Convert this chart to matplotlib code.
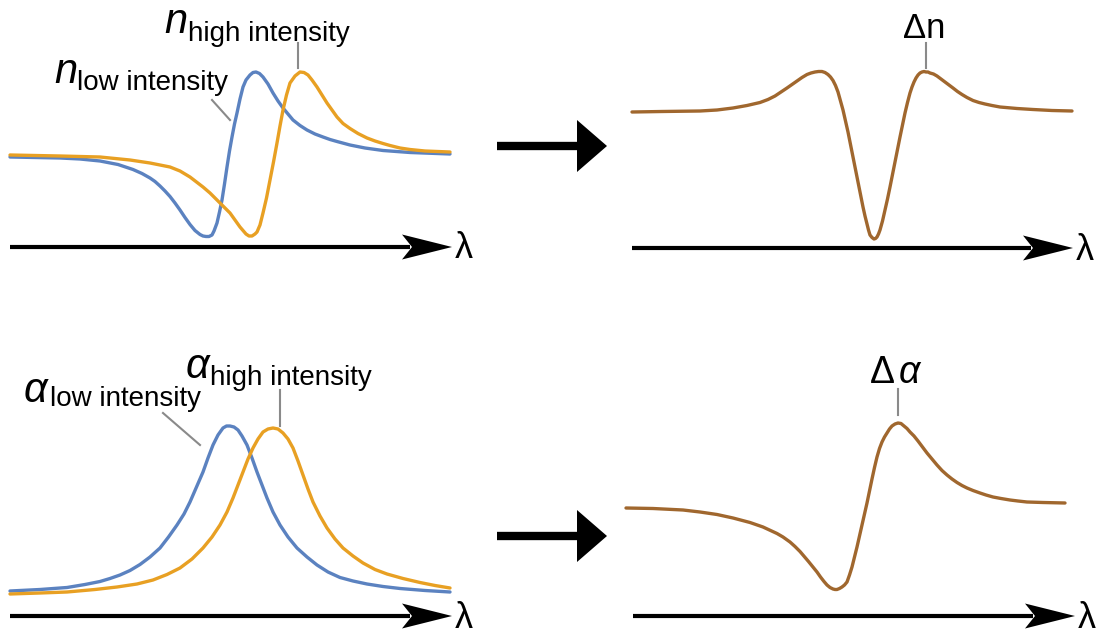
import matplotlib
matplotlib.use("Agg")
import matplotlib.pyplot as plt
from matplotlib.patches import Polygon

# -------------------------------------------------------------------------
# Data (arbitrary units: x = wavelength, y = height
# above the lambda axis)
# -------------------------------------------------------------------------
n_low_x = [0, 50, 70, 90, 108, 123, 132, 140, 145, 150,
           155, 160, 165, 170, 175, 180, 185, 190, 193, 196,
           199, 202, 204, 207, 209.5, 212, 214.5, 217, 219.5, 222,
           224.5, 227, 230, 233, 236, 240, 243, 246, 249.5, 253,
           258, 263, 268, 273, 278, 283, 290, 297, 305, 313,
           320, 327, 340, 355, 373, 400, 440]
n_low_y = [90, 89, 88, 86, 82.5, 77.5, 73.5, 69, 65.5, 61,
           56, 50.5, 44, 37, 29.5, 22.5, 16.5, 12.5, 11, 10.5,
           10.5, 12, 16, 24, 35, 47, 63, 80, 96, 110,
           123, 134, 148, 160, 167, 172, 174.5, 175, 173.5, 170,
           163, 154, 146, 139, 133, 127, 121.5, 117, 113, 110,
           107.5, 105.5, 102, 99, 96.5, 94.5, 93]

n_high_x = [0, 50, 90, 120, 140, 160, 170, 180, 193, 200,
            207, 213, 220, 225, 230, 236, 239, 242, 245, 247,
            250, 253, 256.5, 260, 263.5, 267, 270, 273, 276.5, 280,
            285, 290, 294, 298, 302, 307, 312, 317, 322, 327,
            333, 340, 348, 357, 365, 373, 380, 390, 400, 415,
            440]
n_high_y = [92, 91, 90, 87, 84, 80, 76, 70, 60, 54,
            47, 41, 34, 27, 20, 13, 11, 11, 13, 15,
            22, 34, 49, 67, 85, 104, 121, 137, 152, 164,
            171, 175, 174.5, 172, 167, 160, 152, 144, 137, 130,
            123.5, 118.5, 113.5, 109, 106, 103.5, 101.5, 99, 97.5, 96,
            95]

a_low_x = [0, 30, 57, 75, 90, 100, 110, 120, 130, 140,
           150, 158.5, 167, 174, 180, 186.5, 193, 198, 203, 208,
           213, 216.5, 220, 224, 228, 232, 237, 242, 247, 252,
           257, 263, 270, 278, 287, 297, 307, 318, 330, 343,
           357, 373, 390, 415, 440]
a_low_y = [25, 26.5, 28.5, 31.5, 34.5, 37.5, 41, 45.5, 51.5, 59,
           68, 79, 91, 102, 114, 129, 144, 158, 171, 181,
           188, 190, 190, 189, 186, 180, 171, 158, 144, 131,
           118, 104, 91, 79, 68, 59, 51, 44, 38.5, 35,
           32, 29.5, 27.5, 25.5, 24]

a_high_x = [0, 30, 57, 85, 107, 127, 143, 157, 170, 182,
            193, 202, 210, 217, 223, 228, 233, 238, 243, 248,
            253, 258, 263, 268, 273, 278, 283, 288, 293, 298,
            303, 310, 317, 325, 333, 343, 353, 365, 377, 393,
            410, 425, 440]
a_high_y = [22, 23, 24, 26.5, 29, 32, 36, 41.5, 48, 57,
            68, 79, 91, 104, 118, 131, 144, 157, 168, 177,
            184, 187, 188, 187, 183, 177, 168, 155, 141, 127,
            114, 100, 88, 77, 68, 60, 53, 46.5, 42, 37.5,
            33.5, 30.5, 28]

dn_x = [0, 30, 68, 85, 101, 115, 128, 136, 143, 149,
        155, 160, 165, 170, 175, 179, 183, 186.5, 190, 193,
        196, 198.5, 201, 203.5, 206, 208.5, 211, 213.5, 216, 218.5,
        221, 223.5, 226, 228.5, 231, 233, 235, 236.5, 238, 240,
        242, 243.5, 245, 246.5, 248, 250.5, 253, 255.5, 258, 260.5,
        263, 265.5, 268, 270.5, 273, 275.5, 278, 280, 282, 284,
        286, 288, 290, 292, 294, 296, 298, 301.5, 305, 309,
        313, 317, 321, 325.5, 330, 335, 341, 347, 353, 360,
        368, 385, 401, 420, 440]
dn_y = [136, 136.5, 137, 138, 140, 142.5, 145.5, 148.5, 152, 156,
        160, 163.5, 167, 170.5, 173.5, 175, 176, 176.5, 176.5, 175.5,
        173.5, 171, 167.5, 162.5, 156, 147, 138, 127, 116, 103.5,
        91, 78.5, 66, 53.5, 41, 32, 24, 18, 13, 10.5,
        9, 9.5, 11, 14, 18, 27, 38, 49, 61, 73.5,
        86, 98.5, 111, 123, 135, 145.5, 155, 161, 166, 170,
        173, 175, 176, 176.5, 176, 176, 175, 174, 172, 169,
        166, 163, 160, 156.5, 153.5, 150.5, 147.5, 145.5, 144, 142.5,
        141, 139.5, 138.5, 137.5, 137]

da_x = [-7, 20, 50, 67, 84, 100, 117, 130, 144, 150,
        157, 162, 167, 175.5, 184, 187.5, 191, 194, 197, 200,
        202, 204, 206.5, 209, 211.5, 214, 216.5, 219, 221.5, 224,
        226.5, 229, 231.5, 234, 236.5, 239, 241.5, 244, 246.5, 249,
        251.5, 254, 256.5, 259, 262, 265, 268, 271, 274, 277,
        281, 285, 289.5, 294, 299, 304, 309, 314, 319, 324,
        329, 334, 340, 347, 353, 360, 368, 377, 385, 394,
        410, 432]
da_y = [108, 107.5, 106, 104, 101.5, 98, 93.5, 89, 82.5, 79,
        74, 69.5, 64.5, 54.5, 44, 39, 34.5, 31, 28.5, 27,
        26.5, 26.5, 27.5, 29, 31, 34, 41, 49, 59, 69,
        80, 91, 102, 113, 125, 137, 148.5, 159, 167.5, 174,
        179, 183, 187, 190, 192, 193, 192.5, 190, 187.5, 184,
        180, 175, 169, 163, 157, 151, 145.5, 141, 137, 133.5,
        130.5, 128, 125.5, 123, 121, 119, 117.5, 116, 115, 114,
        113.5, 113]

# -------------------------------------------------------------------------
# Style
# -------------------------------------------------------------------------
W, H = 1102, 635
BLUE = "#5b82c0"
ORANGE = "#e8a023"
BROWN = "#a0672e"
GREY = "#8a8a8a"
LW = 2.4
FONT = "Liberation Sans"

fig = plt.figure(figsize=(W / 100, H / 100), dpi=100)

# background axes in pixel units (for the big arrows between panels)
bg = fig.add_axes([0, 0, 1, 1])
bg.set_xlim(0, W)
bg.set_ylim(H, 0)
bg.axis("off")


def make_panel(ox, oy, x0, x1, y0, y1):
    """Axes where 1 data unit = 1 pixel, origin at pixel (ox, oy)."""
    ax = fig.add_axes([x0 / W, 1 - y1 / H, (x1 - x0) / W, (y1 - y0) / H])
    ax.set_xlim(x0 - ox, x1 - ox)
    ax.set_ylim(oy - y1, oy - y0)
    ax.axis("off")
    return ax


def curve(ax, x, y, color):
    ax.plot(x, y, color=color, lw=LW, solid_joinstyle="round",
            solid_capstyle="round")


def lambda_axis(ax, length):
    ax.plot([0, length - 42], [0, 0], color="black", lw=3.0, solid_capstyle="butt")
    head = Polygon([(length, 0), (length - 50, 12.5), (length - 40, 0),
                    (length - 50, -12.5)], closed=True, color="black", lw=0)
    ax.add_patch(head)
    ax.text(length + 3, -2, "λ", fontsize=26, family=FONT,
            ha="left", va="center")


def leader(ax, p0, p1):
    ax.plot([p0[0], p1[0]], [p0[1], p1[1]], color=GREY, lw=1.5)


def label(ax, x, y, sym, sub, dx, dy, sym_size=30, sub_size=20):
    ax.text(x, y, sym, fontsize=sym_size, family=FONT, style="italic",
            va="baseline", ha="left")
    ax.text(x + dx, y + dy, sub, fontsize=sub_size, family=FONT,
            va="baseline", ha="left")


# -------------------------------------------------------------------------
# Top left: refractive index
# -------------------------------------------------------------------------
ax1 = make_panel(10, 247, 0, 490, 0, 275)
curve(ax1, n_low_x, n_low_y, BLUE)
curve(ax1, n_high_x, n_high_y, ORANGE)
lambda_axis(ax1, 442)
label(ax1, 154, 214, "n", "high intensity", dx=24, dy=-8)
label(ax1, 44, 164, "n", "low intensity", dx=23, dy=-7)
leader(ax1, (288, 204), (288, 179))
leader(ax1, (202, 147), (220, 127))

# -------------------------------------------------------------------------
# Top right: delta n
# -------------------------------------------------------------------------
ax2 = make_panel(632, 248, 615, 1102, 0, 275)
curve(ax2, dn_x, dn_y, BROWN)
lambda_axis(ax2, 441)
ax2.text(292, 210, "Δn", fontsize=25, family=FONT, ha="center", va="baseline")
leader(ax2, (294, 205), (294, 180))

# -------------------------------------------------------------------------
# Bottom left: absorption
# -------------------------------------------------------------------------
ax3 = make_panel(10, 616, 0, 490, 340, 635)
curve(ax3, a_low_x, a_low_y, BLUE)
curve(ax3, a_high_x, a_high_y, ORANGE)
lambda_axis(ax3, 442)
label(ax3, 176, 238, "α", "high intensity", dx=24, dy=-7)
label(ax3, 14, 214, "α", "low intensity", dx=26, dy=-4)
leader(ax3, (270, 226), (270, 190))
leader(ax3, (153, 203), (190, 171))

# -------------------------------------------------------------------------
# Bottom right: delta alpha
# -------------------------------------------------------------------------
ax4 = make_panel(633, 616, 615, 1102, 340, 635)
curve(ax4, da_x, da_y, BROWN)
lambda_axis(ax4, 442)
ax4.text(237, 233, "Δ", fontsize=27, family=FONT, ha="left", va="baseline")
ax4.text(266, 233, "α", fontsize=27, family=FONT, style="italic",
         ha="left", va="baseline")
leader(ax4, (265, 227), (265, 201))

# -------------------------------------------------------------------------
# Arrows between the panels
# -------------------------------------------------------------------------
for yc in (146, 536):
    bg.plot([497, 580], [yc, yc], color="black", lw=6, solid_capstyle="butt")
    bg.add_patch(Polygon([(577, yc - 26), (607, yc), (577, yc + 26)],
                         closed=True, color="black", lw=0))

fig.savefig("out.png", dpi=100)
